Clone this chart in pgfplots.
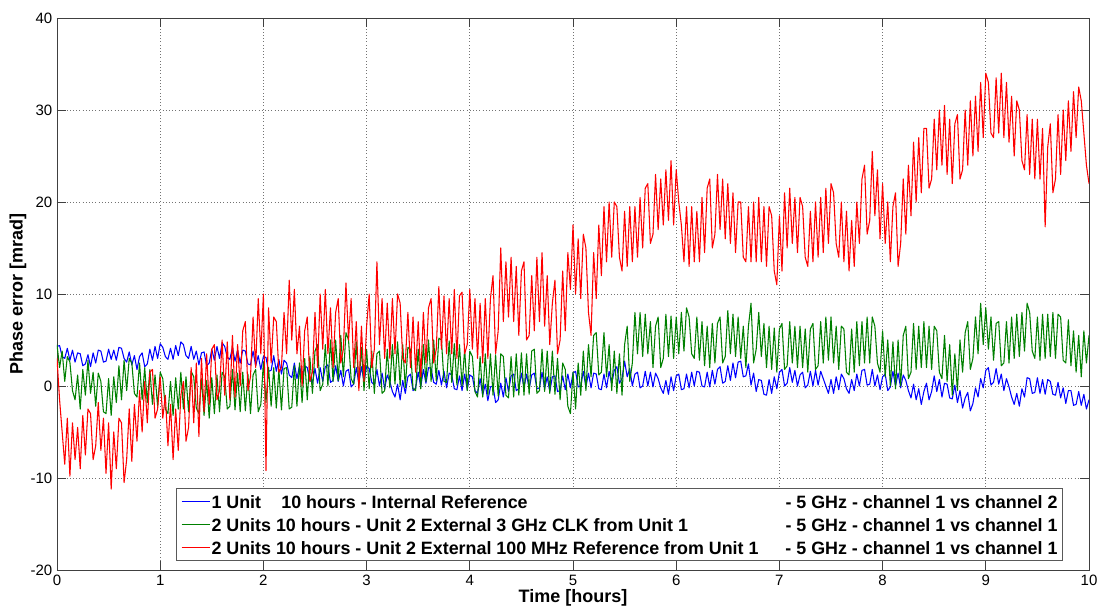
\documentclass[border=0pt]{standalone}
\usepackage{pgfplots}
\pgfplotsset{compat=1.18}
\usepackage{pgfplotstable}
\usepackage{calc}
\usepackage{fontspec}
\setmainfont{Liberation Sans}
\pgfplotstableread{
b g r
4.3 4.5 3.0
4.4 2.0 -1.5
3.2 3.8 -5.0
3.0 0.5 -8.5
4.1 3.2 -3.5
2.8 2.6 -9.8
3.9 -0.5 -4.0
2.6 -1.5 -8.0
3.6 1.2 -4.5
3.5 -2.5 -9.0
2.2 1.8 -3.2
2.4 -1.0 -7.5
3.4 2.8 -2.5
2.1 -0.8 -3.0
3.6 1.5 -8.0
2.5 -2.2 -6.5
3.9 1.4 -1.8
3.8 0.5 -7.0
2.6 -2.8 -3.5
2.7 -3.0 -9.5
4.0 0.8 -4.0
2.9 -3.2 -11.2
3.9 1.0 -5.0
2.8 -1.8 -9.0
4.2 2.2 -3.5
4.1 -1.5 -4.0
3.0 2.8 -10.5
2.6 -0.5 -8.0
3.7 3.0 -2.5
2.3 2.5 -8.2
3.3 -0.8 -2.0
1.8 -1.2 -6.0
3.2 2.5 -0.5
3.6 -1.5 -5.0
2.1 2.0 0.5
2.4 -1.8 -4.0
4.0 1.8 1.5
2.8 -2.0 1.8
4.3 1.2 -3.5
3.0 -2.2 -2.5
4.6 1.5 1.0
4.2 0.8 -3.5
3.2 -2.5 -1.0
2.9 -3.0 -6.5
4.1 0.5 -2.0
2.9 -3.2 -8.0
4.4 0.9 -2.5
3.3 -2.5 -7.0
4.8 1.5 -1.0
4.5 -2.5 0.5
3.3 1.0 -6.0
3.0 -2.8 -4.5
4.3 1.6 2.0
2.9 1.0 -4.0
3.8 -2.4 2.5
2.3 -3.0 -5.5
3.6 0.8 3.0
3.7 -3.2 -2.8
2.2 0.6 3.5
2.5 -3.5 -2.0
4.0 0.9 4.0
2.8 -3.0 4.5
4.3 1.2 -1.5
3.0 -2.8 -0.5
4.7 1.5 5.0
4.3 1.0 -1.0
3.1 -2.5 4.8
2.9 -2.2 -1.5
4.2 1.8 5.5
2.7 -2.6 -1.2
3.9 1.4 4.5
2.5 -2.8 0.0
3.9 1.5 6.0
3.8 -2.7 7.0
2.4 1.3 -0.5
2.3 -3.0 1.0
3.8 1.2 7.5
2.2 1.8 2.0
3.3 -2.8 9.5
1.8 -2.0 3.5
3.2 2.6 10.0
3.1 -1.8 -9.2
1.6 2.0 8.5
1.7 -2.2 2.5
3.3 2.0 7.5
1.6 -2.4 7.0
2.9 1.8 1.5
1.3 -2.6 2.0
2.8 1.9 8.0
2.5 2.0 3.5
1.2 -2.5 11.5
0.9 -2.3 5.0
2.5 2.2 10.5
0.8 -2.2 3.5
2.2 2.5 6.5
0.7 -1.8 0.0
2.2 3.0 6.0
2.0 -1.5 7.5
0.6 3.2 0.5
0.4 -0.8 1.5
1.9 3.8 8.0
0.3 4.5 2.0
2.0 -0.5 10.0
0.5 0.2 4.0
2.1 4.5 10.5
2.3 0.0 3.5
0.4 5.0 8.5
0.6 0.5 2.0
2.2 5.0 8.0
0.5 0.6 9.5
1.7 5.5 2.5
0.0 1.0 4.0
1.6 5.8 11.2
1.8 5.0 5.0
-0.1 0.8 9.5
0.2 0.2 2.0
2.0 4.8 7.0
0.3 0.0 -0.5
2.1 4.2 6.5
0.5 -0.5 0.5
2.1 4.0 6.5
1.9 -0.3 10.0
0.4 3.8 2.0
0.1 -0.8 4.0
1.8 3.5 13.5
0.0 3.8 4.5
1.4 -0.8 9.5
-0.3 -0.5 3.0
1.2 4.0 9.0
0.5 -0.2 3.0
-0.6 4.5 9.5
-1.2 0.2 3.5
0.2 4.8 10.0
-1.5 0.0 9.0
0.6 4.5 3.0
-0.8 -0.2 2.5
1.0 4.2 8.0
1.3 4.0 2.0
-0.5 -0.3 7.5
-0.2 -0.5 1.5
1.5 4.0 7.0
-0.1 -0.3 1.0
1.8 4.5 8.0
0.3 0.5 2.5
2.0 5.0 8.5
1.9 0.5 9.5
0.4 5.0 2.5
0.2 0.6 4.0
1.7 5.2 10.8
0.1 5.0 4.0
1.6 0.5 9.8
-0.2 0.4 3.5
1.4 4.9 9.5
1.2 0.4 3.5
-0.3 4.6 10.5
-0.4 0.1 3.0
1.1 4.5 9.8
-0.5 0.0 10.2
1.3 4.0 3.5
-0.4 -0.5 4.5
1.2 3.8 10.5
1.0 3.2 4.0
-0.5 -0.6 9.5
-0.8 -1.2 3.0
0.8 3.2 9.0
-1.0 -1.2 2.5
0.2 3.5 9.5
-1.6 -1.0 3.0
-0.1 3.5 9.5
0.0 -1.0 12.0
-1.8 3.4 3.5
-1.5 -1.1 6.0
0.3 3.5 15.0
-1.2 3.2 7.0
0.9 -1.0 13.5
-0.6 -1.3 7.5
1.1 3.2 14.0
1.3 -1.2 7.0
-0.5 3.5 13.0
-0.3 -1.0 5.5
1.4 3.6 12.5
-0.2 -1.0 13.5
1.3 3.5 5.0
-0.3 -0.9 5.5
1.2 3.8 12.0
1.4 4.0 6.0
-0.3 -0.8 14.0
-0.2 -0.5 7.0
1.5 4.0 14.5
-0.3 -0.6 6.5
1.0 3.8 12.0
-0.6 -0.8 4.5
1.0 3.8 9.0
1.1 -0.9 11.5
-0.6 3.0 3.5
-0.5 -1.5 5.0
1.1 2.5 12.5
-0.4 1.8 6.0
1.3 -2.2 14.5
-0.2 -3.0 10.5
1.4 1.5 17.5
1.6 -2.5 10.0
-0.1 2.5 16.0
0.0 -1.0 9.5
1.6 3.8 16.5
-0.1 -0.5 15.0
1.4 4.5 8.0
-0.2 1.0 5.5
1.4 5.5 14.5
1.3 5.8 9.5
-0.3 1.2 17.5
-0.4 1.5 12.0
1.3 5.8 19.5
-0.2 1.0 13.5
1.6 4.5 20.0
0.2 -0.5 14.0
1.7 3.8 20.0
2.1 -0.8 19.5
0.3 3.5 14.0
0.8 -1.0 12.5
2.7 4.5 19.0
1.0 6.5 13.0
1.9 0.5 19.5
0.0 2.5 13.5
1.3 8.0 19.5
1.5 3.5 14.0
-0.2 8.0 20.5
0.0 3.2 15.0
1.6 7.8 21.5
0.0 3.5 22.0
1.5 7.0 15.5
-0.1 2.0 16.5
1.4 6.5 23.0
0.8 7.5 17.0
-0.2 2.0 22.5
-0.8 3.0 17.5
0.6 7.8 23.5
-0.9 3.2 18.0
1.0 7.6 24.5
-0.5 3.0 17.5
1.1 7.5 23.5
1.3 3.5 20.0
-0.4 8.0 17.5
-0.3 3.8 13.5
1.3 8.5 19.5
-0.2 7.5 13.0
1.5 3.5 19.5
0.0 3.0 13.5
1.6 7.5 19.0
1.5 2.8 13.5
0.0 7.0 20.5
-0.1 2.2 14.5
1.5 6.5 21.5
-0.1 2.0 22.5
1.7 6.8 15.0
0.2 2.5 16.5
1.8 6.8 23.0
2.1 7.5 17.0
0.3 2.5 22.5
0.5 3.2 16.0
2.2 8.2 22.0
0.6 3.5 15.5
2.5 7.8 21.0
0.9 3.2 14.5
2.6 7.5 20.0
2.7 3.0 20.0
1.0 6.5 14.0
1.1 2.0 13.5
2.4 6.5 19.5
0.1 9.0 13.5
1.4 2.5 20.0
-0.6 4.0 13.5
0.7 8.0 20.5
0.6 3.2 13.5
-0.9 6.8 19.5
-1.0 2.0 13.0
0.7 6.5 19.5
-0.8 1.8 18.5
1.0 6.3 12.5
-0.3 1.5 11.0
1.5 6.2 18.5
1.8 6.8 12.5
0.0 1.8 21.0
0.3 2.2 15.0
2.0 7.0 21.5
0.4 2.5 15.5
1.7 6.5 20.5
0.0 2.0 14.5
1.2 6.5 20.5
1.5 2.0 19.5
-0.2 6.2 14.0
0.1 1.5 13.0
1.6 6.2 19.0
0.0 6.8 13.5
1.7 1.8 20.0
0.1 2.2 14.0
1.6 7.0 20.5
0.8 2.5 14.5
0.0 7.5 21.5
-0.8 2.8 15.5
0.7 7.5 22.0
-0.8 2.5 21.0
1.0 6.5 15.5
-0.4 1.8 14.0
1.3 6.5 20.0
0.8 6.2 13.5
-0.3 1.5 19.0
-0.8 1.2 12.5
0.7 6.2 18.0
-0.5 1.5 13.0
1.3 7.0 20.0
0.0 2.2 15.5
1.7 7.0 22.5
1.8 2.5 24.0
0.1 7.5 16.5
0.2 2.5 18.0
1.8 7.5 25.5
0.0 6.5 18.5
1.2 2.5 23.5
-0.4 1.5 16.0
1.0 6.0 22.0
1.3 1.0 15.5
-0.5 5.0 20.0
-0.1 0.0 13.5
1.6 4.8 19.5
0.0 -0.3 21.0
1.4 5.0 13.0
-0.2 0.0 15.5
1.2 5.5 22.5
0.6 6.5 16.5
-0.5 0.8 24.0
-1.3 1.5 18.5
0.2 6.8 26.5
-1.5 1.8 20.0
-0.3 6.5 27.0
-2.0 2.0 21.0
-0.6 7.0 28.0
0.3 2.0 28.0
-1.5 6.5 21.5
-0.6 1.8 22.5
1.1 6.5 29.0
-0.6 6.0 23.5
0.7 1.5 30.0
-1.2 0.8 24.0
0.3 5.5 30.5
0.2 0.5 23.0
-1.3 4.5 29.0
-1.4 -1.0 22.0
0.1 3.5 28.5
-1.8 -0.5 29.5
-0.5 5.0 22.5
-2.4 1.5 23.5
-1.3 5.8 30.0
-0.7 7.0 24.0
-2.7 1.8 31.0
-1.9 3.0 25.0
-0.2 7.5 31.5
-1.2 3.5 25.5
0.8 9.0 33.0
-0.2 4.5 27.0
1.7 8.5 34.0
2.0 4.0 33.0
0.1 7.5 27.5
0.4 2.8 27.0
1.9 6.8 33.5
0.2 7.0 27.5
1.3 2.2 34.0
-0.5 2.5 27.0
0.8 7.0 33.0
-0.1 2.5 26.5
-1.2 7.5 31.5
-2.0 3.0 25.0
-0.8 7.8 31.0
-2.2 3.2 30.0
-0.3 8.0 24.5
-1.2 3.8 23.5
0.9 9.0 29.5
0.8 8.0 23.0
-0.8 3.8 29.0
-0.7 3.0 22.5
0.9 7.5 29.0
-0.8 2.8 22.5
0.7 7.8 28.0
-0.9 3.0 17.3
0.7 7.8 26.0
0.5 3.2 28.5
-0.9 8.0 21.0
-1.0 3.0 22.5
0.4 7.8 29.5
-1.3 7.5 23.0
-0.2 2.8 30.0
-1.9 2.5 24.5
-0.5 7.2 31.0
-0.5 2.2 25.5
-2.1 6.0 32.0
-2.0 1.5 27.0
-0.6 5.5 32.5
-2.1 1.0 31.0
-0.9 6.0 27.5
-2.5 2.5 24.0
-1.5 5.5 22.0
}\phase
\newlength{\unitw}
\setlength{\unitw}{\widthof{\fontsize{13.4}{16}\selectfont\bfseries 2 Units }}
\definecolor{mgreen}{rgb}{0,0.5,0}
\newcommand{\lrow}[3]{\rule[-3.7pt]{0pt}{17.25pt}\textcolor{#1}{\rule[4.4pt]{21pt}{0.8pt}}\hspace{1.5pt}\makebox[430.5pt][l]{#2}#3}
\begin{document}
\begin{tikzpicture}
\begin{axis}[
  scale only axis, width=774pt, height=414pt,
  xmin=0, xmax=10, ymin=-20, ymax=40,
  xtick={0,1,2,3,4,5,6,7,8,9,10},
  xticklabels={0,1,2,3,4,5,6,7,8,9,10},
  ytick={-20,-10,0,10,20,30,40},
  yticklabels={-20,-10,0,10,20,30,40},
  grid=major,
  major grid style={dotted, black!55, line width=0.6pt},
  axis line style={black!75, line width=0.6pt},
  tick style={black!75, line width=0.6pt},
  major tick length=7pt,
  tick align=inside, tick pos=both,
  ticklabel style={font=\fontsize{11.25}{13}\selectfont},
  xlabel={Time [hours]}, ylabel={Phase error [mrad]},
  label style={font=\fontsize{13.5}{16}\selectfont\bfseries},
  xlabel style={at={(axis description cs:0.5,-0.0507)}, anchor=center},
  ylabel style={at={(axis description cs:-0.0378,0.5)}, anchor=center},
]
\addplot[blue, line width=0.8pt, line join=round] table[x expr=\coordindex*0.025, y=b] {\phase};
\addplot[mgreen, line width=0.8pt, line join=round] table[x expr=\coordindex*0.025, y=g] {\phase};
\addplot[red, line width=0.8pt, line join=round] table[x expr=\coordindex*0.025, y=r] {\phase};
\node[draw=black!65, line width=0.8pt, fill=white, inner xsep=3.75pt, inner ysep=1pt,
  anchor=south west, font=\fontsize{13.4}{16}\selectfont\bfseries]
  at (axis description cs:0.1153,0.0163) {%
  \renewcommand{\arraystretch}{0}\setlength{\tabcolsep}{0pt}%
  \begin{tabular}{@{}l@{}}
  \lrow{blue}{\makebox[\unitw][l]{1 Unit}\hspace{0.3em}10 hours - Internal Reference}{- 5 GHz - channel 1 vs channel 2}\\
  \lrow{mgreen}{2 Units 10 hours - Unit 2 External 3 GHz CLK from Unit 1}{- 5 GHz - channel 1 vs channel 1}\\
  \lrow{red}{2 Units 10 hours - Unit 2 External 100 MHz Reference from Unit 1}{- 5 GHz - channel 1 vs channel 1}
  \end{tabular}};
\coordinate (O) at (rel axis cs:0,0);
\end{axis}
\pgfresetboundingbox
\path[use as bounding box] (O) ++(-42.75pt,-27.75pt) rectangle ++(826.5pt,455.25pt);
\end{tikzpicture}
\end{document}
